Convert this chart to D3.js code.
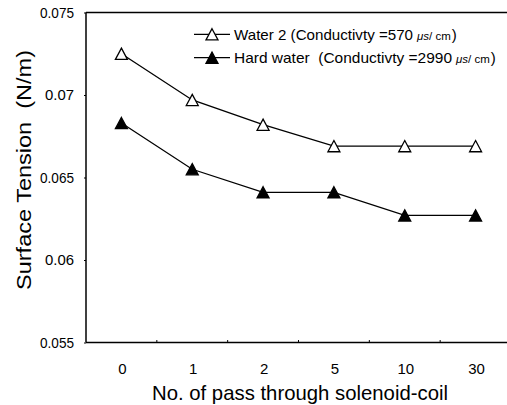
<!DOCTYPE html>
<html><head><meta charset="utf-8">
<script src="https://cdn.jsdelivr.net/npm/d3@7"></script>
<style>body{margin:0;background:#fff;} text{font-family:"Liberation Sans",Arial,sans-serif;fill:#000;}</style>
</head><body><svg id="c" width="507" height="405"></svg>
<script>
const categories = ["0","1","2","5","10","30"];
const water2 = [0.0725, 0.0697, 0.0682, 0.0669, 0.0669, 0.0669];
const hardWater = [0.0683, 0.0655, 0.0641, 0.0641, 0.0627, 0.0627];
const yTicks = [0.055, 0.06, 0.065, 0.07, 0.075];
const yTickLabels = ["0.055","0.06","0.065","0.07","0.075"];
const seriesNames = ["Water 2 (Conductivty =570", "Hard water  (Conductivty =2990"];

const svg = d3.select("#c");
const L = 86, R = 511, T = 12.5, B = 342.5;
const x = d3.scalePoint().domain(categories).range([L, R]).padding(0.5);
const y = d3.scaleLinear().domain([0.055, 0.075]).range([B, T]);

// frame: top, left, bottom
svg.append("line").attr("x1", L).attr("x2", 507).attr("y1", T).attr("y2", T).attr("stroke", "#000").attr("stroke-width", 1.5);
svg.append("line").attr("x1", L).attr("x2", 507).attr("y1", B).attr("y2", B).attr("stroke", "#000").attr("stroke-width", 1.5);
svg.append("line").attr("x1", L).attr("x2", L).attr("y1", T).attr("y2", B).attr("stroke", "#000").attr("stroke-width", 1.5);

// y axis
const yAxis = d3.axisLeft(y).tickValues(yTicks).tickFormat((d, i) => yTickLabels[i]).tickSize(2).tickPadding(10);
const gy = svg.append("g").attr("transform", `translate(${L},0)`).call(yAxis);
gy.select(".domain").remove();
gy.selectAll("text").attr("font-size", 15).attr("font-family", "Liberation Sans, Arial, sans-serif").attr("textLength", function(){return this.textContent.length > 4 ? 34 : (this.textContent.length > 3 ? 29 : 25);}).attr("lengthAdjust", "spacingAndGlyphs");

// x axis: labels at points, small ticks between categories
const step = x.step();
const gx = svg.append("g");
gx.selectAll("text").data(categories).join("text")
  .attr("x", d => x(d) + 1).attr("y", 373.5).attr("text-anchor", "middle").attr("font-size", 15).text(d => d);
gx.selectAll("line").data(categories.slice(1)).join("line")
  .attr("x1", d => x(d) - step / 2).attr("x2", d => x(d) - step / 2)
  .attr("y1", B).attr("y2", B - 2.5).attr("stroke", "#000").attr("stroke-width", 1);

// titles
svg.append("text").attr("x", 300).attr("y", 399.5).attr("text-anchor", "middle").attr("font-size", 21)
  .attr("textLength", 296).attr("lengthAdjust", "spacingAndGlyphs").text("No. of pass through solenoid-coil");
svg.append("text").attr("transform", "translate(30.5,170) rotate(-90)").attr("text-anchor", "middle").attr("font-size", 21)
  .attr("xml:space", "preserve").attr("textLength", 240).attr("lengthAdjust", "spacingAndGlyphs").text("Surface Tension  (N/m)");

// triangle symbol
const tri = { draw(ctx, size) { const w = 6, h = 5.6; ctx.moveTo(0, -h); ctx.lineTo(w, h); ctx.lineTo(-w, h); ctx.closePath(); } };
const sym = d3.symbol().type(tri);

const line = d3.line().x((d, i) => x(categories[i])).y(d => y(d));
const series = [
  { vals: water2, fill: "#fff" },
  { vals: hardWater, fill: "#000" }
];
series.forEach(s => {
  svg.append("path").datum(s.vals).attr("d", line).attr("fill", "none").attr("stroke", "#000").attr("stroke-width", 1.3);
  svg.selectAll(null).data(s.vals).join("path")
    .attr("transform", (d, i) => `translate(${x(categories[i])},${y(d)})`)
    .attr("d", sym()).attr("fill", s.fill).attr("stroke", "#000").attr("stroke-width", 1.3);
});

// legend
const legY = [34.3, 57.7];
const legEnd = [413, 452];
series.forEach((s, i) => {
  const g = svg.append("g");
  g.append("line").attr("x1", 194).attr("x2", 230).attr("y1", legY[i]).attr("y2", legY[i]).attr("stroke", "#000").attr("stroke-width", 1.3);
  g.append("path").attr("transform", `translate(212,${legY[i]})`).attr("d", sym()).attr("fill", s.fill).attr("stroke", "#000").attr("stroke-width", 1.3);
  const x0 = 234;
  const t = g.append("text").attr("x", x0).attr("y", legY[i] + 5.5).attr("font-size", 15).attr("xml:space", "preserve");
  t.append("tspan").attr("textLength", legEnd[i] - x0).attr("lengthAdjust", "spacingAndGlyphs").text(seriesNames[i]);
  t.append("tspan").attr("x", legEnd[i] + 4).attr("font-size", 11.5).attr("font-style", "italic").text("μs");
  t.append("tspan").attr("font-size", 11.5).text("/ cm");
  t.append("tspan").attr("dx", 1).text(")");
});
</script></body></html>
